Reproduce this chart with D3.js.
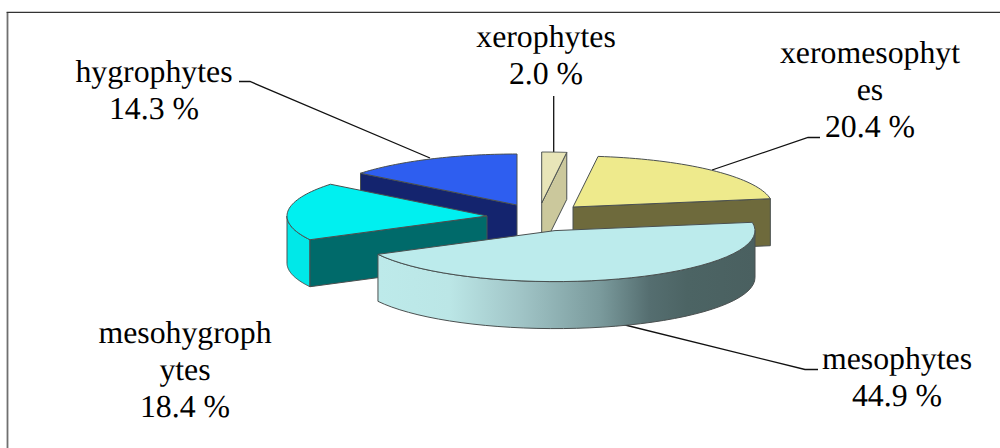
<!DOCTYPE html>
<html><head><meta charset="utf-8">
<script src="https://cdn.jsdelivr.net/npm/d3@7"></script>
<style>html,body{margin:0;padding:0;background:#fff}svg{display:block}text{font-family:"Liberation Serif",serif;font-size:31.8px;fill:#000;text-rendering:geometricPrecision}</style>
</head><body><svg id="c" width="1000" height="448"></svg>
<script>
const categories = ["xerophytes","xeromesophytes","mesophytes","mesohygrophytes","hygrophytes"];
const values = [2.0,20.4,44.9,18.4,14.3];
const labelLines = [["xerophytes","2.0 %"],["xeromesophyt","es","20.4 %"],["mesophytes","44.9 %"],["mesohygroph","ytes","18.4 %"],["hygrophytes","14.3 %"]];
const topColors = ["#e8e5b8","#eeea8c","#bcebec","#00f0f0","#2e5ef0"];
const faceColors = ["#cbc89c","#6e6a3c","#4c6666","#006a6a","#14246e"];
const wallColors = ["#cbc89c","#6e6a3c","url(#mesoWall)","#00e8e8","#14246e"];
const apexes = [[541.7,203],[573,207],[555,230.6],[487,216],[517,205]];
const labelPos = [[546,47],[870,63],[897,369],[185,343],[154,82]];
const leaders = [[[553.7,96],[553.7,153]],[[820,137.5],[808,137.5],[712,170]],[[818,369.5],[805,369.5],[617,323]],[],[[239,81.5],[250,81.5],[430,158]]];
const rx=200, ry=51, depth=47;
const svg=d3.select("#c");
const defs=svg.append("defs");
const g=defs.append("linearGradient").attr("id","mesoWall").attr("gradientUnits","userSpaceOnUse").attr("x1",378).attr("x2",755).attr("y1",0).attr("y2",0);
[[0,"#bdeaea"],[.19,"#bbe6e6"],[.38,"#a0c4c6"],[.59,"#7a9a9c"],[.72,"#556e70"],[.82,"#4c6464"],[1,"#4a6060"]].forEach(s=>g.append("stop").attr("offset",s[0]).attr("stop-color",s[1]));
svg.append("path").attr("d","M7.5,448V12.3").attr("fill","none").attr("stroke","#707070").attr("stroke-width",1.8);
svg.append("path").attr("d","M6.6,12.3H1000").attr("fill","none").attr("stroke","#333").attr("stroke-width",1.2);
const arcs=d3.pie().sort(null).value(d=>d)(values);
const px=(i,a)=>[apexes[i][0]+rx*Math.sin(a),apexes[i][1]-ry*Math.cos(a)];
const arcPts=(i,a0,a1)=>d3.range(0,41).map(k=>px(i,a0+(a1-a0)*k/40));
const line=d3.line();
const S="#4a5050";
function slice(i,faces){
  const A=arcs[i],gr=svg.append("g");
  const dn=p=>[p[0],p[1]+depth];
  const lo=Math.max(A.startAngle,Math.PI/2),hi=Math.min(A.endAngle,Math.PI*1.5);
  if(hi>lo){const pts=arcPts(i,lo,hi);
    gr.append("path").attr("d",line(pts.concat(pts.map(dn).reverse()))+"Z").attr("fill",wallColors[i]).attr("stroke",S).attr("stroke-width",1);}
  faces.forEach(a=>{const p=px(i,a),c=apexes[i];
    gr.append("path").attr("d",line([c,p,dn(p),dn(c)])+"Z").attr("fill",faceColors[i]).attr("stroke",S).attr("stroke-width",1);});
  gr.append("path").attr("d",line([apexes[i],...arcPts(i,A.startAngle,A.endAngle)])+"Z").attr("fill",topColors[i]).attr("stroke",S).attr("stroke-width",1);
}
leaders.forEach(l=>{if(l.length)svg.append("path").attr("d",line(l)).attr("fill","none").attr("stroke","#111").attr("stroke-width",1.3);});
slice(4,[arcs[4].startAngle]);
slice(3,[arcs[3].startAngle]);
slice(0,[arcs[0].endAngle]);
slice(1,[arcs[1].endAngle]);
slice(2,[]);
labelLines.forEach((ls,i)=>{const t=svg.append("text").attr("text-anchor","middle");
  ls.forEach((s,k)=>t.append("tspan").attr("x",labelPos[i][0]).attr("y",labelPos[i][1]+k*37).text(s));});
</script></body></html>
